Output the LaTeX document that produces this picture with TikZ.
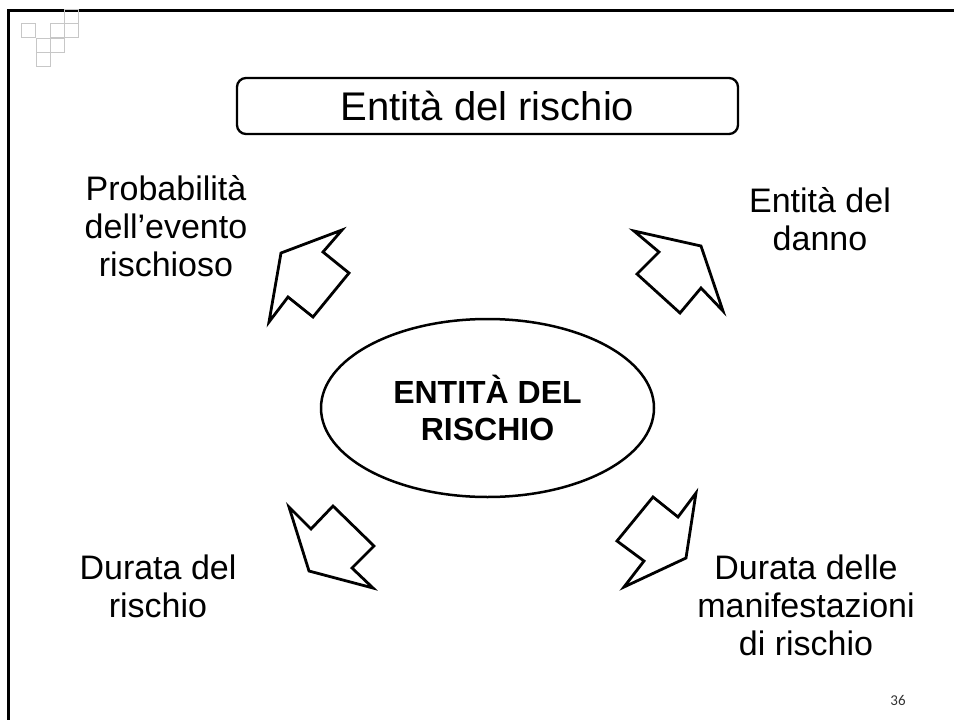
\documentclass[tikz,border=0pt]{standalone}
\usepackage{fontspec}
\setmainfont{Liberation Sans}
\newfontfamily\pagefont{Carlito}
\usetikzlibrary{shapes.geometric}
\tikzset{
  lbl/.style={align=center, font=\fontsize{34}{38}\selectfont},
  blockarrow/.style={draw, line width=2.8pt, line join=miter},
  gridsq/.style={draw=black!22, line width=1pt}
}
\begin{document}
\begin{tikzpicture}[x=1pt, y=-1pt]
\useasboundingbox (0,0) rectangle (954,720);
\draw[line width=3pt] (8.5,720) -- (8.5,10.5) -- (954,10.5);
\foreach \cx/\cy in {21/23, 50/23, 64/23, 64/9, 36/38, 50/38, 36/52}
  \draw[gridsq] (\cx,\cy) rectangle ++(14.5,14.5);
\node[draw, line width=2.3pt, rounded corners=9pt, minimum width=501pt, minimum height=56pt,
  font=\fontsize{40}{44}\selectfont] (title) at (487.5,106) {Entità del rischio};
\node[draw, ellipse, line width=2.5pt, minimum width=333pt, minimum height=178pt,
  align=center, font=\bfseries\fontsize{32}{37}\selectfont] (centre) at (487.5,408) {ENTITÀ DEL\\RISCHIO};
\node[lbl] (prob) at (166,226) {Probabilità\\dell’evento\\rischioso};
\node[lbl] (danno) at (820,219) {Entità del\\danno};
\node[lbl] (durata) at (158,586) {Durata del\\rischio};
\node[lbl] (manif) at (806,605) {Durata delle\\manifestazioni\\di rischio};
\draw[blockarrow] (342,230) -- (323,252) -- (349,273) -- (313,317) -- (288,297) -- (269,322) -- (281,253) -- cycle;
\draw[blockarrow] (634,231) -- (701,246) -- (723,311) -- (701,288) -- (680,313) -- (637,274) -- (659,252) -- cycle;
\draw[blockarrow] (696,493) -- (686,558) -- (624,587) -- (644,561) -- (617,541) -- (653,497) -- (678,517) -- cycle;
\draw[blockarrow] (289,507) -- (311,529) -- (333,506) -- (374,546) -- (352,568) -- (373,588) -- (309,571) -- cycle;
\node[font=\pagefont\fontsize{15}{18}\selectfont, text=black!80] (pagenum) at (898,700) {36};
\end{tikzpicture}
\end{document}
